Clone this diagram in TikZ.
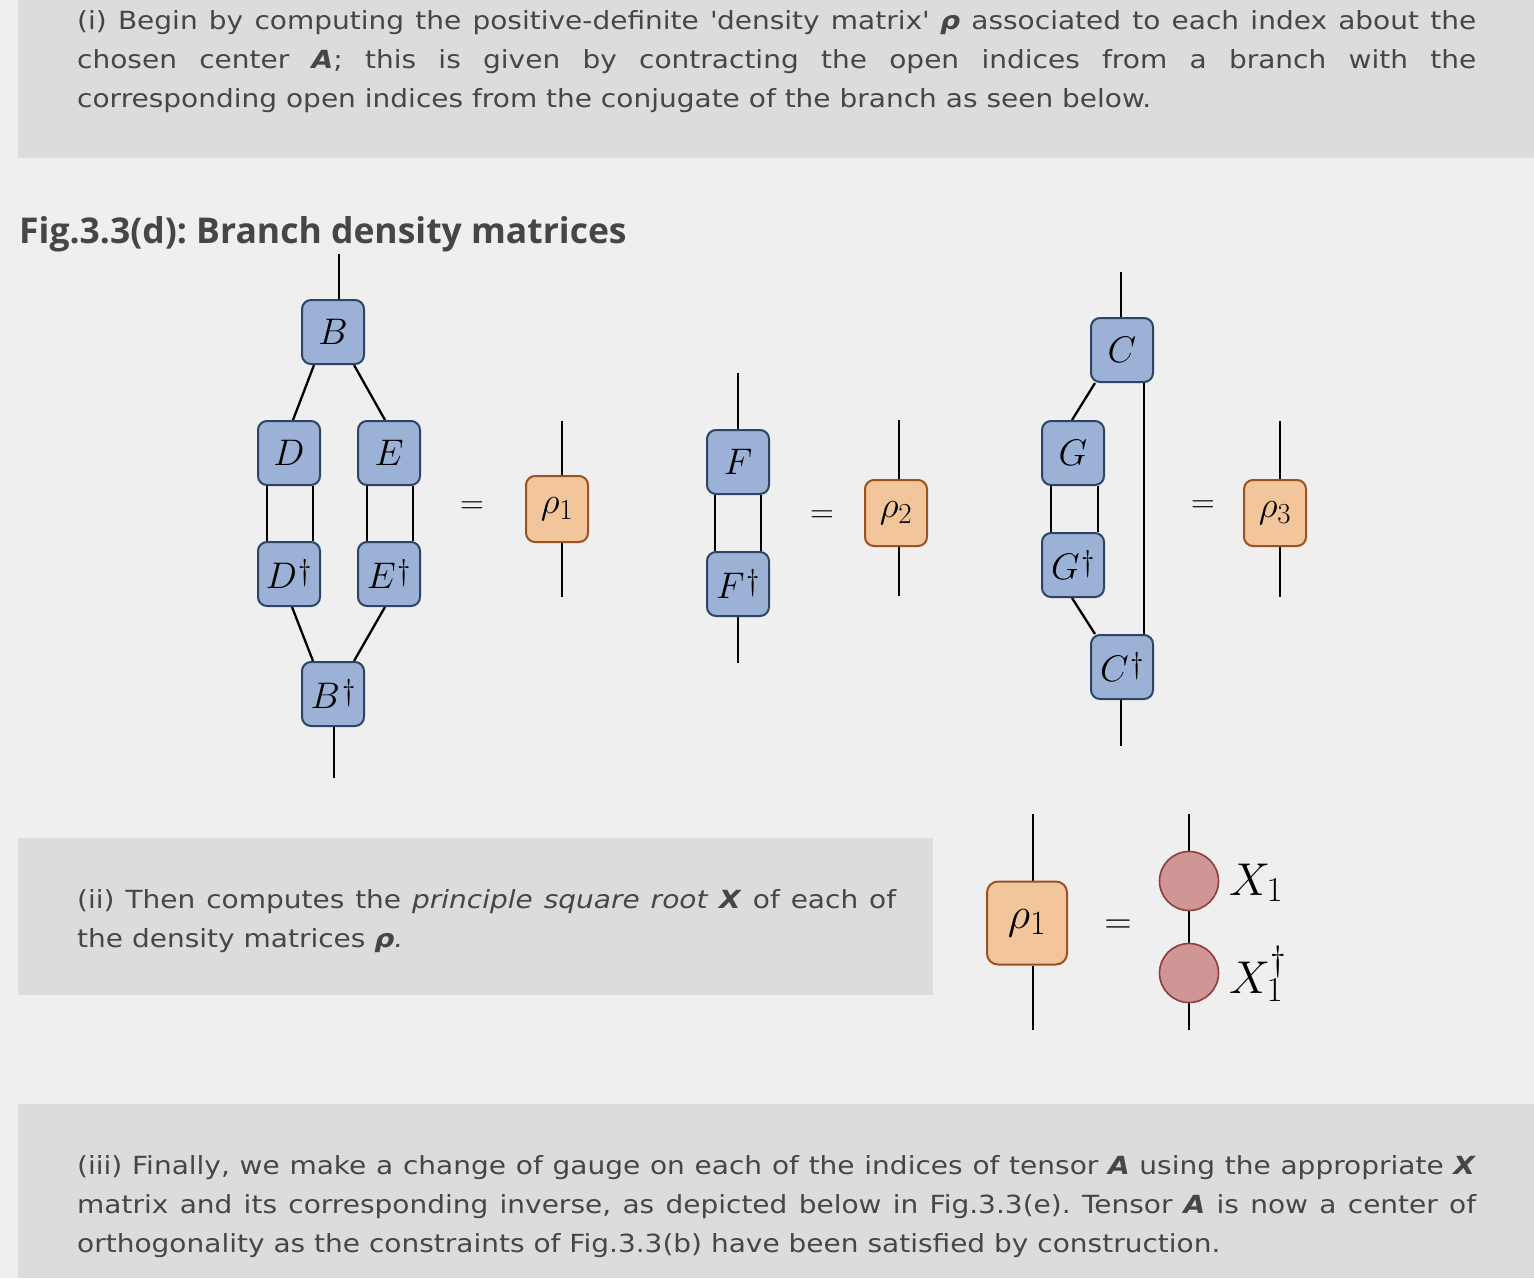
\RequirePackage{fix-cm}
\documentclass[tikz,border=0pt]{standalone}
\usepackage[no-math]{fontspec}
\newfontfamily\txt{DejaVu Sans}[FakeStretch=1.12,BoldFont={DejaVu Sans Bold},ItalicFont={DejaVu Sans Oblique},BoldItalicFont={DejaVu Sans Bold Oblique}]
\newfontfamily\ttl{Open Sans}
\definecolor{bgc}{HTML}{EFEFEF}
\definecolor{panel}{HTML}{DCDCDC}
\definecolor{ink}{HTML}{464646}
\definecolor{tfill}{HTML}{9BB1D6}
\definecolor{tborder}{HTML}{2E4466}
\definecolor{rfill}{HTML}{F2C59B}
\definecolor{rborder}{HTML}{9B5220}
\definecolor{xfill}{HTML}{D09595}
\definecolor{xborder}{HTML}{8E3D3D}
\DeclareMathSizes{37}{37}{29}{22}
\DeclareMathSizes{44}{44}{34}{26}
\DeclareMathSizes{46}{46}{35}{27}
\newcommand\tlabelfont{\fontsize{37}{42}\selectfont}
\newcommand\biglabelfont{\fontsize{44}{52}\selectfont}
\newcommand\bi[1]{\textbf{\textit{#1}}}
\newcommand\dg{\mkern1mu\raisebox{0.22em}{\fontsize{30}{31}\selectfont$\dagger$}}
\pgfdeclarelayer{bg}
\pgfdeclarelayer{legs}
\pgfsetlayers{bg,legs,main}
\begin{document}
\frenchspacing
\begin{tikzpicture}[x=1pt,y=-1pt,
  tensor/.style={draw=tborder, fill=tfill, line width=2pt, rounded corners=9pt,
    minimum width=62pt, minimum height=64pt, inner sep=0pt, font=\tlabelfont},
  rhobox/.style={tensor, draw=rborder, fill=rfill, minimum height=66pt},
  xnode/.style={circle, draw=xborder, fill=xfill, line width=1.6pt, minimum size=59pt, inner sep=0pt},
  leg/.style={line width=2.3pt, black},
  eqsign/.style={inner sep=0pt, font=\fontsize{33}{40}\selectfont},
  para/.style={anchor=base west, inner sep=0pt, text=ink, font=\txt\fontsize{25}{30}\selectfont},
]
\begin{pgfonlayer}{bg}
  \fill[bgc] (0,0) rectangle (1534,1278);
  \fill[panel] (18,0) rectangle (1534,158);
  \fill[panel] (18,838) rectangle (933,995);
  \fill[panel] (18,1104) rectangle (1534,1278);
\end{pgfonlayer}

% --- step (i) text
\node[para] (t1) at (77,29) {\makebox[1399pt][s]{(i) Begin by computing the positive-definite \textquotesingle density matrix\textquotesingle{} \bi{ρ} associated to each index about the}};
\node[para] (t2) at (77,68) {\makebox[1399pt][s]{chosen center \bi{A}; this is given by contracting the open indices from a branch with the}};
\node[para] (t3) at (77,107) {corresponding open indices from the conjugate of the branch as seen below.};

% --- title
\node[anchor=base west, inner sep=0pt, text=ink, font=\ttl\bfseries\fontsize{35.5}{40}\selectfont] (title) at (19,243) {Fig.3.3(d): Branch density matrices};

% --- branch B
\node[tensor] (B) at (333,332) {$B$};
\node[tensor] (D) at (289,453) {$D$};
\node[tensor] (E) at (389,453) {$E$};
\node[tensor] (Dd) at (289,574) {$D\dg$};
\node[tensor] (Ed) at (389,574) {$E\dg$};
\node[tensor] (Bd) at (333,694) {$B\dg$};
\node[eqsign] (eq1) at (472,508) {$=$};
\node[rhobox] (r1) at (557,509) {$\rho_1$};
\coordinate (Btop) at (339,254);
\coordinate (Bbot) at (334,778);
\coordinate (r1top) at (562,421);
\coordinate (r1bot) at (562,597);

% --- branch F
\node[tensor] (F) at (738,462) {$F$};
\node[tensor] (Fd) at (738,584) {$F\dg$};
\node[eqsign] (eq2) at (822,517) {$=$};
\node[rhobox] (r2) at (896,513) {$\rho_2$};
\coordinate (Ftop) at (738,373);
\coordinate (Fbot) at (738,663);
\coordinate (r2top) at (899,420);
\coordinate (r2bot) at (899,596);

% --- branch C
\node[tensor] (C) at (1122,350) {$C$};
\node[tensor] (G) at (1073,453) {$G$};
\node[tensor] (Gd) at (1073,565) {$G\dg$};
\node[tensor] (Cd) at (1122,667) {$C\dg$};
\node[eqsign] (eq3) at (1203,507) {$=$};
\node[rhobox] (r3) at (1275,513) {$\rho_3$};
\coordinate (Ctop) at (1121,272);
\coordinate (Cbot) at (1121,746);
\coordinate (r3top) at (1280,421);
\coordinate (r3bot) at (1280,597);

% --- step (ii)
\node[para] (t4) at (77,908) {\makebox[819pt][s]{(ii) Then computes the \textit{principle square root} \bi{X} of each of}};
\node[para] (t5) at (77,947) {the density matrices \bi{ρ}\textit{.}};

\node[rhobox, minimum width=80pt, minimum height=83pt, rounded corners=11pt, font=\biglabelfont] (r4) at (1027,923) {$\rho_1$};
\node[eqsign, font=\fontsize{38}{44}\selectfont] (eq4) at (1118,927) {$=$};
\node[xnode] (X1) at (1189,881) {};
\node[xnode] (X1d) at (1189,973) {};
\node[anchor=base west, inner sep=0pt, font=\fontsize{46}{52}\selectfont] (lx1) at (1229,895) {$X_1$};
\node[anchor=base west, inner sep=0pt, font=\fontsize{46}{52}\selectfont] (lx1d) at (1229,993) {$X_1^\dagger$};
\coordinate (r4top) at (1033,814);
\coordinate (r4bot) at (1033,1030);
\coordinate (Xtop) at (1189,814);
\coordinate (Xbot) at (1189,1030);

% --- step (iii)
\node[para] (t6) at (77,1174) {\makebox[1399pt][s]{(iii) Finally, we make a change of gauge on each of the indices of tensor \bi{A} using the appropriate \bi{X}}};
\node[para] (t7) at (77,1213) {\makebox[1399pt][s]{matrix and its corresponding inverse, as depicted below in Fig.3.3(e). Tensor \bi{A} is now a center of}};
\node[para] (t8) at (77,1252) {orthogonality as the constraints of Fig.3.3(b) have been satisfied by construction.};

\begin{pgfonlayer}{legs}
  % branch B
  \draw[leg] (Btop) -- (Btop |- B.north);
  \draw[leg] ([xshift=-19pt]B.south) -- ([xshift=4pt]D.north);
  \draw[leg] ([xshift=21pt]B.south) -- ([xshift=-4pt]E.north);
  \draw[leg] ([xshift=-22pt]D.south) -- ([xshift=-22pt]Dd.north);
  \draw[leg] ([xshift=24pt]D.south) -- ([xshift=24pt]Dd.north);
  \draw[leg] ([xshift=-22pt]E.south) -- ([xshift=-22pt]Ed.north);
  \draw[leg] ([xshift=24pt]E.south) -- ([xshift=24pt]Ed.north);
  \draw[leg] ([xshift=3pt]Dd.south) -- ([xshift=-20pt]Bd.north);
  \draw[leg] ([xshift=-4pt]Ed.south) -- ([xshift=21pt]Bd.north);
  \draw[leg] (Bbot |- Bd.south) -- (Bbot);
  \draw[leg] (r1top) -- (r1top |- r1.north);
  \draw[leg] (r1bot |- r1.south) -- (r1bot);
  % branch F
  \draw[leg] (Ftop) -- (F.north);
  \draw[leg] ([xshift=-23pt]F.south) -- ([xshift=-23pt]Fd.north);
  \draw[leg] ([xshift=23pt]F.south) -- ([xshift=23pt]Fd.north);
  \draw[leg] (Fd.south) -- (Fbot);
  \draw[leg] (r2top) -- (r2top |- r2.north);
  \draw[leg] (r2bot |- r2.south) -- (r2bot);
  % branch C
  \draw[leg] (Ctop) -- (Ctop |- C.north);
  \draw[leg] ([xshift=-27pt]C.south) -- ([xshift=-1pt]G.north);
  \draw[leg] ([xshift=-22pt]G.south) -- ([xshift=-22pt]Gd.north);
  \draw[leg] ([xshift=25pt]G.south) -- ([xshift=25pt]Gd.north);
  \draw[leg] ([xshift=-1pt]Gd.south) -- ([xshift=-27pt]Cd.north);
  \draw[leg] ([xshift=22pt]C.south) -- ([xshift=22pt]Cd.north);
  \draw[leg] (Cbot |- Cd.south) -- (Cbot);
  \draw[leg] (r3top) -- (r3top |- r3.north);
  \draw[leg] (r3bot |- r3.south) -- (r3bot);
  % square root
  \draw[leg] (r4top) -- (r4top |- r4.north);
  \draw[leg] (r4bot |- r4.south) -- (r4bot);
  \draw[leg] (Xtop) -- (X1.north);
  \draw[leg] (X1.south) -- (X1d.north);
  \draw[leg] (X1d.south) -- (Xbot);
\end{pgfonlayer}
\end{tikzpicture}
\end{document}
